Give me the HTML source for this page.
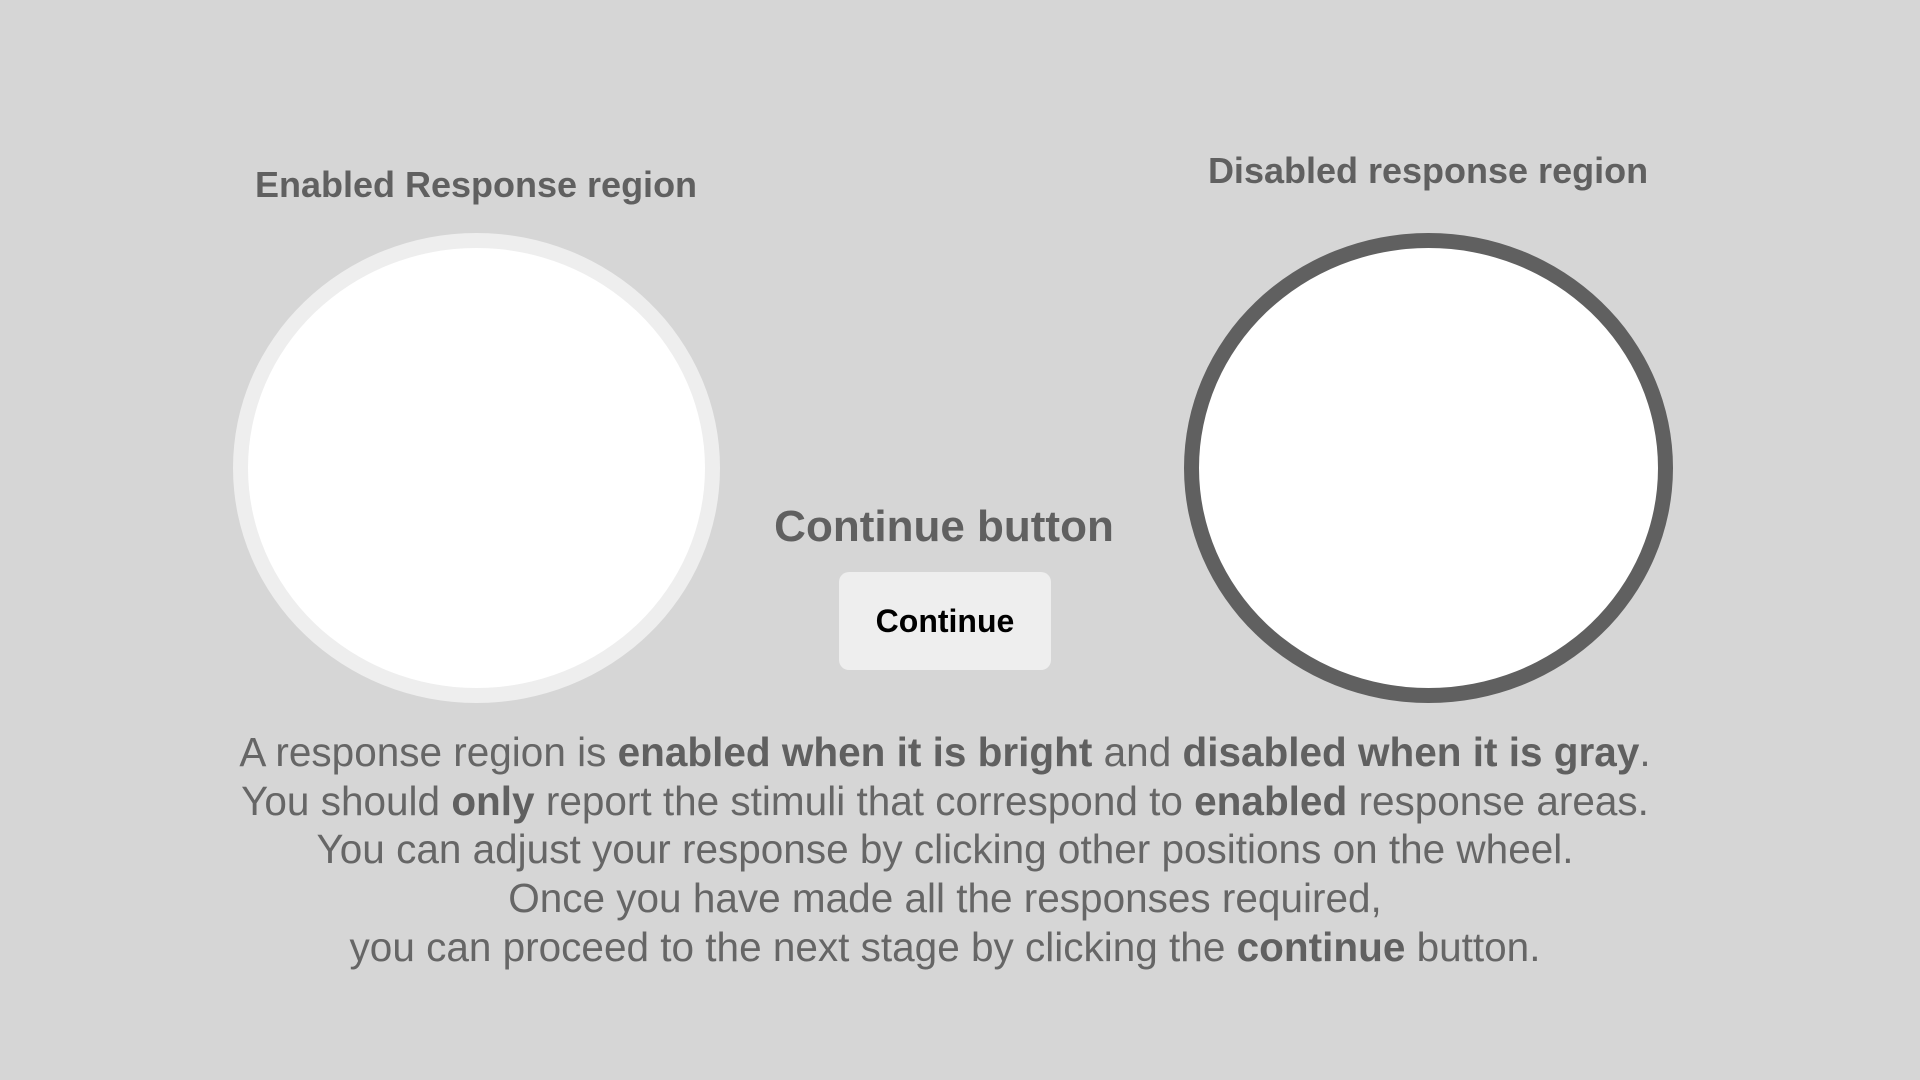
<!DOCTYPE html>
<html><head><meta charset="utf-8"><style>
html,body{margin:0;padding:0;width:1920px;height:1080px;background:#d6d6d6;overflow:hidden;font-family:"Liberation Sans",Arial,sans-serif;}
.lbl{position:absolute;font-weight:bold;color:#606060;text-align:center;white-space:nowrap;transform:translate(-50%,-50%);}
.circ{position:absolute;box-sizing:border-box;border-radius:50%;background:#fff;}
.btn{position:absolute;left:839px;top:572px;width:212px;height:98px;background:#eeeeee;border-radius:10px;display:flex;align-items:center;justify-content:center;font-weight:bold;font-size:32px;color:#000;}
.para{position:absolute;left:0;width:1890px;top:728px;text-align:center;color:#666;font-size:40.5px;line-height:48.7px;white-space:nowrap;}
.para b{color:#606060;}
</style></head><body>
<div class="lbl" style="left:476px;top:185px;font-size:36px;">Enabled Response region</div>
<div class="lbl" style="left:1428px;top:171px;font-size:36px;">Disabled response region</div>
<div class="circ" style="left:233px;top:233px;width:487px;height:470px;border:15px solid #eeeeee;"></div>
<div class="circ" style="left:1184px;top:233px;width:489px;height:470px;border:15px solid #606060;"></div>
<div class="lbl" style="left:944px;top:527px;font-size:44px;">Continue button</div>
<div class="btn">Continue</div>
<div class="para">A response region is <b>enabled when it is bright</b> and <b>disabled when it is gray</b>.<br>You should <b>only</b> report the stimuli that correspond to <b>enabled</b> response areas.<br>You can adjust your response by clicking other positions on the wheel.<br>Once you have made all the responses required,<br>you can proceed to the next stage by clicking the <b>continue</b> button.</div>
</body></html>
